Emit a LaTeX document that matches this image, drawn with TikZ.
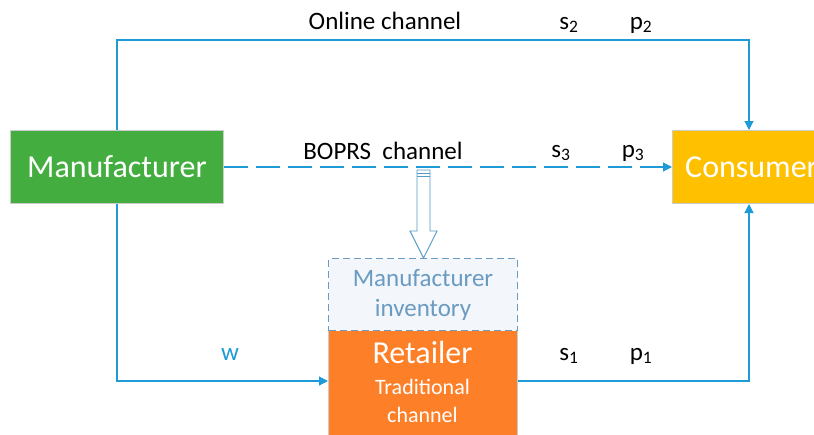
\documentclass[tikz,border=0pt]{standalone}
\usepackage{fontspec}
\setmainfont{Carlito}
\usetikzlibrary{arrows.meta}
\definecolor{lineblue}{HTML}{1E9AD6}
\definecolor{mgreen}{HTML}{43AE3F}
\definecolor{cyellow}{HTML}{FFC000}
\definecolor{rorange}{HTML}{FD7F27}
\definecolor{invblue}{HTML}{6A9BC3}
\definecolor{invfill}{HTML}{F3F6FA}
\begin{document}
\begin{tikzpicture}[x=1pt,y=-1pt,
  box/.style={draw=black!20,line width=1pt,anchor=north west,inner sep=0pt,text=white},
  conn/.style={draw=lineblue,line width=1.2pt,-{Triangle[length=9pt,width=9pt]}},
  lbl/.style={font=\fontsize{25}{27}\selectfont,inner sep=0pt}]
\useasboundingbox (0,0) rectangle (814,434);
\begin{scope}
\clip (0,0) rectangle (814,434);
\node[box,fill=mgreen,minimum width=213pt,minimum height=73pt,font=\fontsize{32}{34}\selectfont] (man) at (10,130) {Manufacturer};
\node[box,fill=cyellow,minimum width=180pt,minimum height=73pt] (con) at (672,130) {};
\node[font=\fontsize{32}{34}\selectfont,text=white,anchor=west,inner sep=0pt] (contxt) at (685,167) {Consumer};
\node[box,fill=rorange,minimum width=189pt,minimum height=110pt] (ret) at (328,330) {};
\node[text=white,font=\fontsize{32}{34}\selectfont,inner sep=0pt] (rettxt) at (422.5,353) {Retailer};
\node[text=white,font=\fontsize{22}{28}\selectfont,align=center,inner sep=0pt] (tradtxt) at (422.5,401) {Traditional\\channel};
\node[draw=invblue,dashed,dash pattern=on 7pt off 4pt,line width=1pt,fill=invfill,anchor=north west,minimum width=189pt,minimum height=72pt,inner sep=0pt,text=invblue,font=\fontsize{25}{30}\selectfont,align=center] (inv) at (328,258) {Manufacturer\\inventory};
\end{scope}
\coordinate (c1) at (117,40);
\coordinate (c2) at (749,40);
\coordinate (c3) at (117,381);
\coordinate (c4) at (749,381);
\draw[conn] (man.north -| c1) -- (c1) -- (c2) -- (con.north -| c2);
\draw[conn] (man.south -| c1) -- (c3) -- (ret.west |- c3);
\draw[conn] (ret.east |- c4) -- (c4) -- (con.south -| c2);
\draw[conn,dash pattern=on 24pt off 8pt] (man.east) -- (con.west);
% hollow arrow
\draw[draw=invblue!70!lineblue,fill=white,line width=0.9pt,line join=miter]
  (417,170) -- (430,170) -- (430,231) -- (437,231) -- (423.5,258) -- (410,231) -- (417,231) -- cycle;
\draw[draw=invblue!70!lineblue,line width=0.9pt] (417,173.5) -- (430,173.5) (417,176.5) -- (430,176.5);
\node[lbl] (online) at (385,21) {Online channel};
\node[lbl] (s2) at (569,25) {s\textsubscript{2}};
\node[lbl] (p2) at (641,25) {p\textsubscript{2}};
\node[lbl] (boprs) at (383,151) {BOPRS\ \ channel};
\node[lbl] (s3) at (561,153) {s\textsubscript{3}};
\node[lbl] (p3) at (633,153) {p\textsubscript{3}};
\node[lbl,text=lineblue] (w) at (230,355) {w};
\node[lbl] (s1) at (569,356) {s\textsubscript{1}};
\node[lbl] (p1) at (641,356) {p\textsubscript{1}};
\end{tikzpicture}
\end{document}
